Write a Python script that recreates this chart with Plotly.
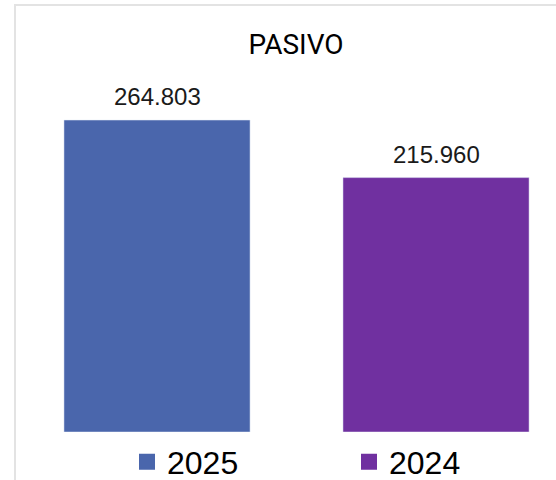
import plotly.graph_objects as go

categories = ["2025", "2024"]
values = [264.803, 215.960]
labels = ["264.803", "215.960"]
colors = ["#4A66AC", "#7030A0"]
title_text = "PASIVO"

fig = go.Figure()
for i, (cat, val, col) in enumerate(zip(categories, values, colors)):
    fig.add_trace(go.Bar(x=[i], y=[val], marker_color=col, width=0.667,
                         showlegend=False, hoverinfo="skip"))
legend_ids = ["legend", "legend2"]
for cat, col, lg in zip(categories, colors, legend_ids):
    fig.add_trace(go.Scatter(x=[None], y=[None], mode="markers", name=cat, legend=lg,
                             marker=dict(symbol="square", size=16, color=col)))

for i, (val, lab) in enumerate(zip(values, labels)):
    fig.add_annotation(x=i, y=val, text=lab, showarrow=False, yanchor="bottom",
                       yshift=8, font=dict(family="Liberation Sans, Arial", size=24, color="#1a1a1a"))

fig.add_shape(type="rect", xref="paper", yref="paper", x0=-0.0037, x1=1.2, y0=-1, y1=427/384,
              line=dict(color="#e3e3e3", width=2), fillcolor="rgba(0,0,0,0)", layer="below")

legend_font = dict(family="Liberation Sans, Arial", size=32, color="black")
fig.update_layout(
    width=556, height=480,
    margin=dict(l=17, r=0, t=48, b=48, autoexpand=False),
    paper_bgcolor="white", plot_bgcolor="white",
    barmode="overlay",
    title=dict(text=title_text, x=296/556, xanchor="center", y=1 - 44/480, yanchor="middle",
               font=dict(family="Roboto, Liberation Sans", size=28, color="black")),
    xaxis=dict(range=[-0.5018, 1.430], showgrid=False, zeroline=False,
               showticklabels=False, showline=False),
    yaxis=dict(range=[0, 384/1.178], showgrid=False, zeroline=False,
               showticklabels=False, showline=False),
    legend=dict(orientation="h", x=(127-17)/539, xanchor="left", y=-30/384, yanchor="middle",
                font=legend_font, bgcolor="rgba(0,0,0,0)"),
    legend2=dict(orientation="h", x=(349-17)/539, xanchor="left", y=-30/384, yanchor="middle",
                 font=legend_font, bgcolor="rgba(0,0,0,0)"),
)

fig.write_html("out.html")
